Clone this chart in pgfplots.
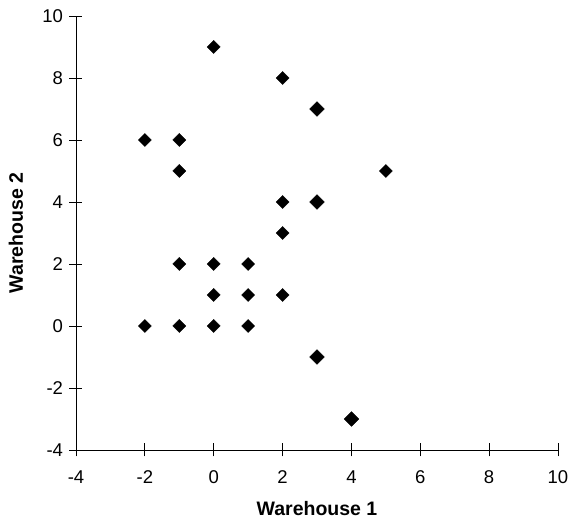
\documentclass[border=0pt]{standalone}
\usepackage{pgfplots}
\pgfplotsset{compat=1.18}
\usepackage{fontspec}
\setmainfont{Liberation Sans}
\begin{document}
\begin{tikzpicture}
\path[use as bounding box] (-76pt,-79pt) rectangle (495pt,450pt);
\begin{axis}[
  scale only axis, width=482pt, height=434pt,
  xmin=-4, xmax=10, ymin=-4, ymax=10,
  axis lines=left, axis line style={-, line width=0.9pt, black},
  xtick={-4,-2,0,2,4,6,8,10}, ytick={-4,-2,0,2,4,6,8,10},
  xticklabels={-4,-2,0,2,4,6,8,10},
  yticklabels={-4,-2,0,2,4,6,8,10},
  tick align=center, major tick length=13pt,
  tick style={black, line width=0.9pt},
  ticklabel style={font=\fontsize{18.5}{20}\selectfont},
  xticklabel style={anchor=north, yshift=-11pt},
  yticklabel style={anchor=east, xshift=-3pt},
  xlabel={Warehouse 1}, ylabel={Warehouse 2},
  label style={font=\bfseries\fontsize{19.5}{21}\selectfont},
  xlabel style={at={(axis description cs:0.5,-0.1498)}, anchor=base},
  ylabel style={at={(axis description cs:-0.110,0.5)}, anchor=base},
  clip=false,
]
\addplot[only marks, mark=square*, mark size=4.6pt, mark options={rotate=45, fill=black, draw=black}] coordinates {
  (-2,6) (-1,6) (-1,5) (0,9) (2,8) (5,5) (2,4) (2,3)
  (-1,2) (0,2) (1,2) (0,1) (1,1) (2,1)
  (-2,0) (-1,0) (0,0) (1,0)
};
\addplot[only marks, mark=square*, mark size=5.2pt, mark options={rotate=45, fill=black, draw=black}] coordinates {
  (3,7) (3,4) (3,-1) (4,-3)
};
\end{axis}
\end{tikzpicture}
\end{document}
